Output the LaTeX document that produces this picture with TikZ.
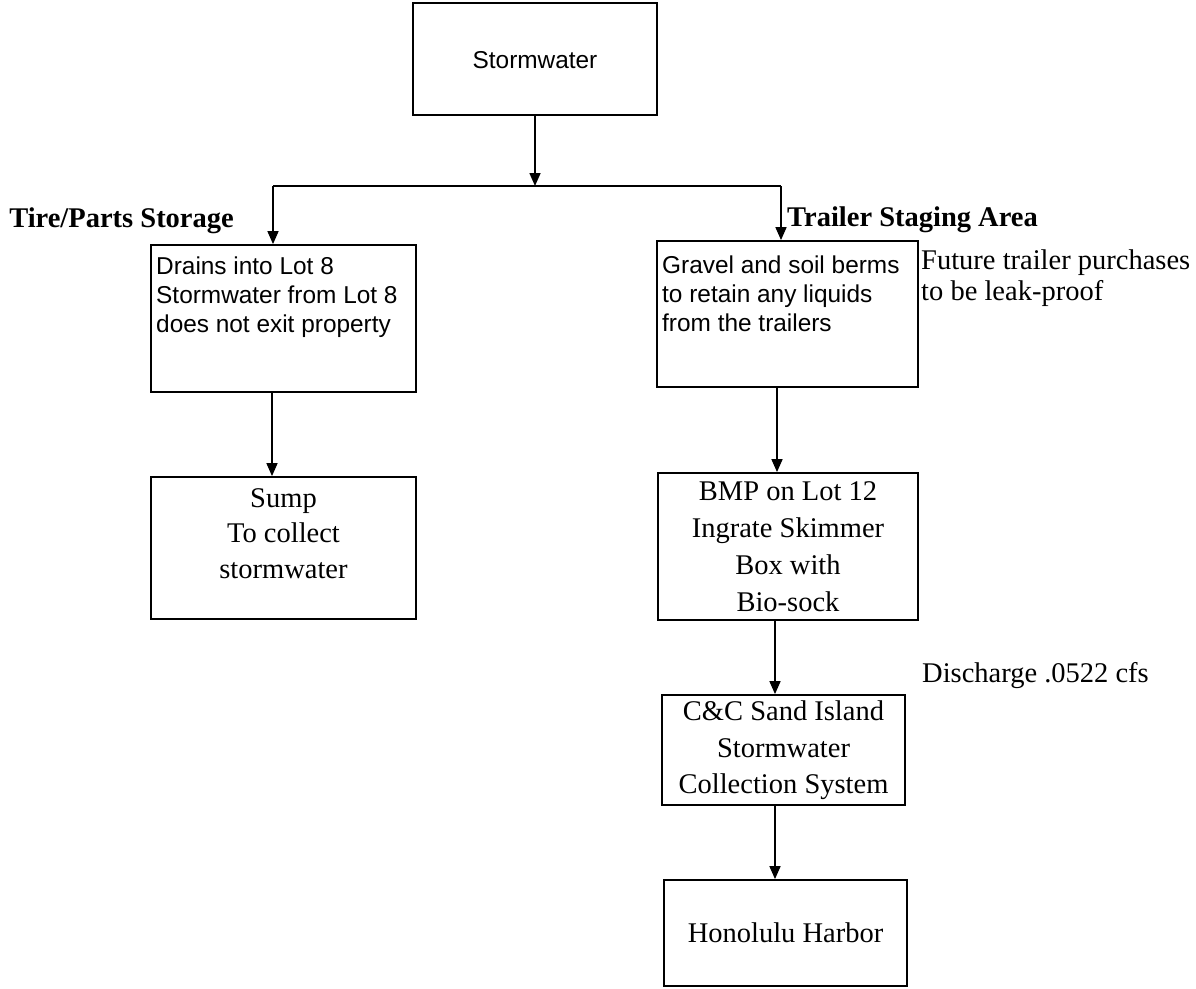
\documentclass[tikz,border=0pt]{standalone}
\usepackage{fontspec}
\setmainfont{Liberation Serif}
\newfontfamily\arialf{Liberation Sans}
\usetikzlibrary{arrows.meta}
\begin{document}
\begin{tikzpicture}[x=1pt,y=-1pt,
  box/.style={draw, line width=1.8pt, inner sep=0pt},
  link/.style={line width=1.6pt},
  arr/.style={-{Triangle[length=13pt,width=11pt]}, line width=1.6pt},
  sans/.style={font=\arialf\fontsize{24.4}{29}\selectfont, inner sep=0pt},
  serif/.style={font=\fontsize{28.5}{37}\selectfont, inner sep=0pt},
  bserif/.style={font=\bfseries\fontsize{28.5}{34}\selectfont, inner sep=0pt}]
\useasboundingbox (0,0) rectangle (1196,988);

% boxes
\node[box, minimum width=244pt, minimum height=112pt] (sw) at (535,59) {};
\node[box, minimum width=265pt, minimum height=147pt] (lb) at (283.5,318.5) {};
\node[box, minimum width=261pt, minimum height=146pt] (rb) at (787.5,314) {};
\node[box, minimum width=265pt, minimum height=142pt] (sump) at (283.5,548) {};
\node[box, minimum width=260pt, minimum height=147pt] (bmp) at (788,546.5) {};
\node[box, minimum width=243pt, minimum height=110pt] (cc) at (783.5,750) {};
\node[box, minimum width=243pt, minimum height=106pt] (hon) at (785.5,933) {};

% texts in boxes
\node[sans, anchor=base] (swt) at (535,68) {Stormwater};

\node[sans, anchor=base west] (lt1) at (156,274) {Drains into Lot 8};
\node[sans, anchor=base west] (lt2) at (156,303) {Stormwater from Lot 8};
\node[sans, anchor=base west] (lt3) at (156,332) {does not exit property};

\node[sans, anchor=base west] (rt1) at (662,273) {Gravel and soil berms};
\node[sans, anchor=base west] (rt2) at (662,302) {to retain any liquids};
\node[sans, anchor=base west] (rt3) at (662,331) {from the trailers};

\node[serif, anchor=base] (st1) at (283.5,507) {Sump};
\node[serif, anchor=base] (st2) at (283.5,542) {To collect};
\node[serif, anchor=base] (st3) at (283.5,578) {stormwater};

\node[serif, anchor=base] (bt1) at (788,500) {BMP on Lot 12};
\node[serif, anchor=base] (bt2) at (788,537) {Ingrate Skimmer};
\node[serif, anchor=base] (bt3) at (788,574) {Box with};
\node[serif, anchor=base] (bt4) at (788,611) {Bio-sock};

\node[serif, anchor=base] (ct1) at (783.5,720) {C\&C Sand Island};
\node[serif, anchor=base] (ct2) at (783.5,757) {Stormwater};
\node[serif, anchor=base] (ct3) at (783.5,793) {Collection System};

\node[serif, anchor=base] (ht) at (785.5,942) {Honolulu Harbor};

% free labels
\node[bserif, anchor=base east] (tire) at (234,227) {Tire/Parts Storage};
\node[bserif, anchor=base west] (trail) at (787,226) {Trailer Staging Area};
\node[serif, anchor=base west] (fut1) at (921,269) {Future trailer purchases};
\node[serif, anchor=base west] (fut2) at (921,300) {to be leak-proof};
\node[serif, anchor=base west] (dis) at (922,682) {Discharge .0522 cfs};

% connectors
\coordinate (jl) at (273,186);
\coordinate (jm) at (535,186);
\coordinate (jr) at (781,186);
\coordinate (xl) at (272,0);
\coordinate (xr) at (777,0);
\coordinate (xb) at (775,0);
\draw[link] (jl) -- (jr);
\draw[arr] (sw.south) -- (jm);
\draw[arr] (jl) -- (jl |- lb.north);
\draw[arr] (jr) -- (jr |- rb.north);
\draw[arr] (lb.south -| xl) -- (sump.north -| xl);
\draw[arr] (rb.south -| xr) -- (bmp.north -| xr);
\draw[arr] (bmp.south -| xb) -- (cc.north -| xb);
\draw[arr] (cc.south -| xb) -- (hon.north -| xb);
\end{tikzpicture}
\end{document}
